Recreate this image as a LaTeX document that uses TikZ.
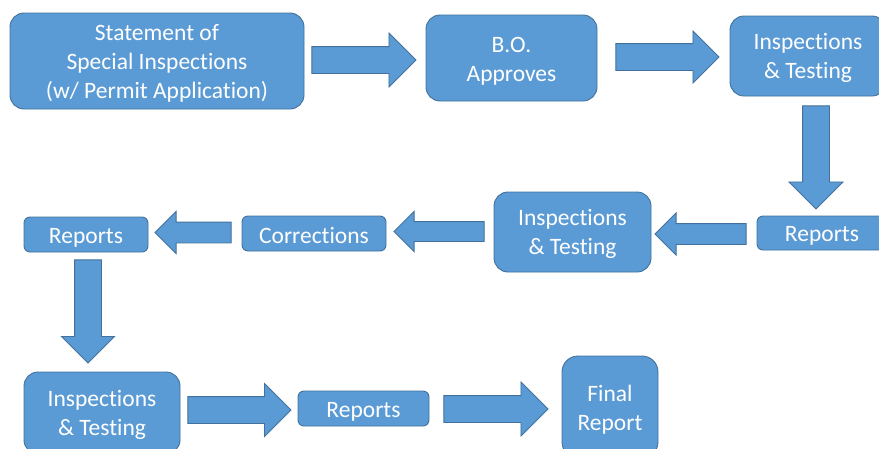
\documentclass[tikz,border=0pt]{standalone}
\usepackage{fontspec}
\setmainfont{Carlito}[Ligatures=NoCommon]
\usepackage{xcolor}
\usepackage{tikz}
\usetikzlibrary{shapes.arrows,calc}
\definecolor{boxfill}{HTML}{5B9BD5}
\definecolor{boxline}{HTML}{41719C}
\newcommand{\topgap}{\rule{0pt}{21pt}}

\begin{document}
\begin{tikzpicture}[
    x=1pt, y=-1pt,
    block/.style={rectangle, rounded corners=14pt, draw=boxline, line width=0.9pt, fill=boxfill,
        text=white, align=center, inner sep=0pt,
        font=\fontsize{23.5}{29}\selectfont},
    smallblock/.style={block, rounded corners=6pt},
    fatarrow/.style={single arrow, draw=boxline, line width=0.9pt, fill=boxfill,
        inner xsep=0pt, inner ysep=13pt, single arrow head indent=0pt,
        single arrow head extend=13.5pt, minimum height=104pt, anchor=tail},
    thinarrow/.style={fatarrow, inner ysep=10pt, single arrow head extend=10.5pt}
]
    \clip (0,0) rectangle (879,448);

    % top row
    \node[block, minimum width=294pt, minimum height=96pt] (stmt) at (157,61)
        {\topgap Statement of\\Special Inspections\\(w/ Permit Application)};
    \node[block, minimum width=171pt, minimum height=86pt] (bo) at (511.5,58) {\topgap B.O.\\Approves};
    \node[block, minimum width=156pt, minimum height=80pt] (insp1) at (808,56) {\topgap Inspections\\\& Testing};

    % middle row
    \node[smallblock, minimum width=130pt, minimum height=34pt] (rep1) at (822,233) {\topgap Reports};
    \node[block, minimum width=157pt, minimum height=80pt] (insp2) at (572.5,232) {\topgap Inspections\\\& Testing};
    \node[smallblock, minimum width=144pt, minimum height=35pt] (corr) at (314,233.5) {\topgap Corrections};
    \node[smallblock, minimum width=124pt, minimum height=35pt] (rep2) at (86,234.5) {\topgap Reports};

    % bottom row
    \node[block, minimum width=156pt, minimum height=82pt] (insp3) at (102,413) {\topgap Inspections\\\& Testing};
    \node[smallblock, minimum width=131pt, minimum height=35pt] (rep3) at (363.5,408.5) {\topgap Reports};
    \node[block, rounded corners=16pt, minimum width=96pt, minimum height=102pt] (final) at (610,407) {\topgap Final\\Report};

    % block arrows
    \node[fatarrow] (a1) at ($(stmt.east)+(7,-1)$) {};
    \node[fatarrow, single arrow head extend=12.5pt, minimum height=103pt] (a2) at ($(bo.east)+(18,-1)$) {};
    \node[fatarrow, rotate=-90, minimum height=103pt] (a3) at ($(insp1.south)+(8,9)$) {};
    \node[thinarrow, rotate=180, minimum height=91pt] (a4) at ($(rep1.west)+(-10,1)$) {};
    \node[thinarrow, rotate=180, inner ysep=9.5pt, single arrow head extend=10pt, minimum height=90pt] (a5)
        at ($(insp2.west)+(-9,-0.5)$) {};
    \node[thinarrow, rotate=180, minimum height=76pt] (a6) at ($(corr.west)+(-10,-1)$) {};
    \node[fatarrow, rotate=-90, single arrow head extend=13pt, minimum height=103pt] (a7)
        at ($(rep2.south)+(2,7)$) {};
    \node[fatarrow, single arrow head extend=13pt, minimum height=103pt] (a8) at ($(insp3.east)+(7,-3)$) {};
    \node[fatarrow] (a9) at ($(rep3.east)+(14,0.5)$) {};
\end{tikzpicture}
\end{document}
